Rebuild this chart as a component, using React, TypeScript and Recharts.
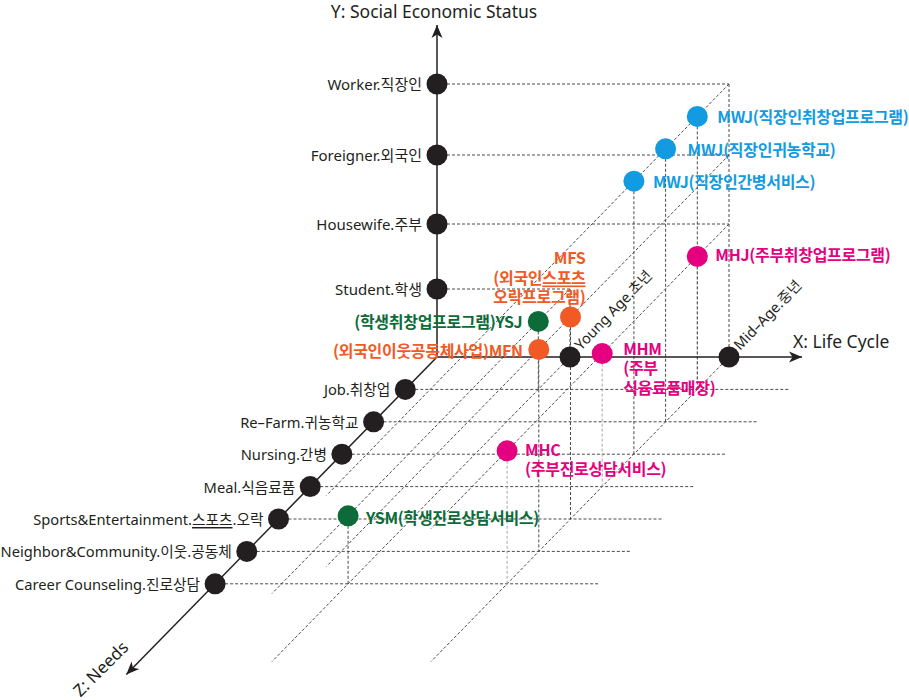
import { ReferenceDot, ReferenceLine, Scatter, ScatterChart, XAxis, YAxis } from "recharts";

// X: life cycle stages, position along the X axis
const lifeStages = ["Young Age.초년", "Mid–Age.중년"];
const lifeStageAt = [133, 292];

// Y: social economic status, height on the Y axis
const statuses = ["Student.학생", "Housewife.주부", "Foreigner.외국인", "Worker.직장인"];
const statusAt = [68, 133, 202, 273];
// stage each status row runs out to on the back plane
const statusReach = [0, 1, 1, 1];

// Z: needs, step 1..7 along the Z axis
const needs = [
  "Job.취창업",
  "Re–Farm.귀농학교",
  "Nursing.간병",
  "Meal.식음료품",
  "Sports&Entertainment.스포츠.오락",
  "Neighbor&Community.이웃.공동체",
  "Career Counseling.진로상담",
];

// services: index into lifeStages / statuses / needs
const serviceLabels = [
  ["(학생취창업프로그램)YSJ"],
  ["YSM(학생진로상담서비스)"],
  ["(외국인이웃공동체사업)MFN"],
  ["MFS", "(외국인스포츠", "오락프로그램)"],
  ["MHJ(주부취창업프로그램)"],
  ["MHM", "(주부", "식음료품매장)"],
  ["MHC", "(주부진로상담서비스)"],
  ["MWJ(직장인취창업프로그램)"],
  ["MWJ(직장인귀농학교)"],
  ["MWJ(직장인간병서비스)"],
];
const serviceLife = [0, 0, 1, 1, 1, 1, 1, 1, 1, 1];
const serviceStatus = [0, 0, 2, 2, 1, 1, 1, 3, 3, 3];
const serviceNeed = [0, 6, 5, 4, 0, 3, 6, 0, 1, 2];

// diagonal depth lines: [stage, status (-1 = floor), how deep they run]
const depthLines = [
  [1, 3, 12.7],
  [1, 2, 12.7],
  [1, 1, 9.4],
  [1, -1, 9.4],
  [0, 0, 9.4],
  [0, -1, 9.4],
];
const floorRunTo = 385;

const INK = "#231f20";
const GRID = "#4a4a4a";
const FONT = "'Noto Sans', 'Noto Sans CJK KR', sans-serif";
const KFONT = "'Noto Sans CJK KR', 'Noto Sans', sans-serif";
const statusColor = ["#0c6b38", "#e5007f", "#f15a24", "#129be0"];

// oblique projection step of one need along Z
const Z_DX = 31.7;
const Z_DY = 32.4;
const P = (lc: number, s: number, z: number) => ({ x: lc - z * Z_DX, y: s - z * Z_DY });

const labelLayout = [
  { anchor: "end", dx: -16, dy: 0, lh: 19 },
  { anchor: "start", dx: 18, dy: 1, lh: 19 },
  { anchor: "end", dx: -16, dy: 1, lh: 19 },
  { anchor: "end", dx: 15, dy: -60, lh: 19.5 },
  { anchor: "start", dx: 18, dy: -2, lh: 19 },
  { anchor: "start", dx: 21, dy: -6, lh: 19.5 },
  { anchor: "start", dx: 18, dy: -2, lh: 19 },
  { anchor: "start", dx: 20, dy: 0, lh: 19 },
  { anchor: "start", dx: 22, dy: 0, lh: 19 },
  { anchor: "start", dx: 19, dy: 0, lh: 19 },
];

const withUnderline = (text: string) => {
  const i = text.indexOf("스포츠");
  if (i < 0) return text;
  return (
    <>
      {text.slice(0, i)}
      <tspan textDecoration="underline">스포츠</tspan>
      {text.slice(i + 3)}
    </>
  );
};

const statusPoints = statuses.map((name, i) => ({ ...P(0, statusAt[i], 0), name, size: 15 }));
const needPoints = needs.map((name, k) => ({ ...P(0, 0, k + 1), name, size: 14.7 }));
const stagePoints = lifeStages.map((name, i) => ({ ...P(lifeStageAt[i], 0, 0), name }));
const servicePoints = serviceLabels.map((lines, i) => ({
  ...P(lifeStageAt[serviceLife[i]], statusAt[serviceStatus[i]], serviceNeed[i] + 1),
  lines,
  idx: i,
  color: statusColor[serviceStatus[i]],
}));

const backRows = statuses.map((_, i) => [P(0, statusAt[i], 0), P(lifeStageAt[statusReach[i]], statusAt[i], 0)]);
const backCols = [
  [P(lifeStageAt[1], 0, 0), P(lifeStageAt[1], statusAt[3], 0)],
  [P(lifeStageAt[0], 0, 0), P(lifeStageAt[0], statusAt[0], 0)],
];
const depthSegs = depthLines.map(([lc, s, z]) => {
  const h = s < 0 ? 0 : statusAt[s];
  return [P(lifeStageAt[lc], h, 0), P(lifeStageAt[lc], h, z)];
});
const floorRows = needs.map((_, k) => [P(0, 0, k + 1), P(floorRunTo, 0, k + 1)]);
const drops = servicePoints.map((_, i) => {
  const lc = lifeStageAt[serviceLife[i]];
  const z = serviceNeed[i] + 1;
  return { seg: [P(lc, statusAt[serviceStatus[i]], z), P(lc, 0, z)], light: serviceStatus[i] === 1 };
});

const yTip = P(0, 332, 0);
const xTip = P(365, 0, 0);
const zTip = P(0, 0, 9.8);
const origin = P(0, 0, 0);

const Arrow = ({ cx, cy, angle }: { cx: number; cy: number; angle: number }) => (
  <polygon points="0,0 -13,-5.5 -9.5,0 -13,5.5" transform={`translate(${cx},${cy}) rotate(${angle})`} fill={INK} />
);

const AxisDot = (props: any) => {
  const { cx, cy, payload } = props;
  return (
    <g>
      <circle cx={cx} cy={cy} r={10.5} fill={INK} />
      <text
        x={cx - 15}
        y={cy}
        textAnchor="end"
        dominantBaseline="central"
        fontSize={payload.size}
        fill={INK}
        fontFamily={FONT}
      >
        {withUnderline(payload.name)}
      </text>
    </g>
  );
};

const StageDot = (props: any) => {
  const { cx, cy, payload } = props;
  return (
    <g>
      <circle cx={cx} cy={cy} r={10.5} fill={INK} />
      <text
        transform={`translate(${cx + 11},${cy - 6}) rotate(-46)`}
        fontSize={14.5}
        fill={INK}
        fontFamily={FONT}
      >
        {payload.name}
      </text>
    </g>
  );
};

const ServiceDot = (props: any) => {
  const { cx, cy, payload } = props;
  const lay = labelLayout[payload.idx];
  return (
    <g>
      <circle cx={cx} cy={cy} r={10.5} fill={payload.color} />
      <text
        x={cx + lay.dx}
        y={cy + lay.dy}
        textAnchor={lay.anchor}
        dominantBaseline="central"
        fontSize={16}
        fontWeight={700}
        fill={payload.color}
        fontFamily={KFONT}
        letterSpacing={-0.3}
      >
        {payload.lines.map((l: string, j: number) => (
          <tspan key={j} x={cx + lay.dx} dy={j === 0 ? 0 : lay.lh}>
            {withUnderline(l)}
          </tspan>
        ))}
      </text>
    </g>
  );
};

const dashed = (seg: { x: number; y: number }[], key: string, color = GRID) => (
  <ReferenceLine
    key={key}
    segment={seg}
    stroke={color}
    strokeWidth={1}
    strokeDasharray="3 2"
    ifOverflow="visible"
  />
);

export default function App() {
  return (
    <div style={{ position: "absolute", left: 0, top: 0, width: 909, height: 700, background: "#fff" }}>
      <ScatterChart width={909} height={700} margin={{ top: 0, right: 0, bottom: 0, left: 0 }}>
        <XAxis type="number" dataKey="x" domain={[-437, 472]} hide allowDataOverflow />
        <YAxis type="number" dataKey="y" domain={[-343, 357]} hide allowDataOverflow />

        {backRows.map((s, i) => dashed(s, `br${i}`))}
        {backCols.map((s, i) => dashed(s, `bc${i}`))}
        {depthSegs.map((s, i) => dashed(s, `d${i}`))}
        {floorRows.map((s, i) => dashed(s, `f${i}`))}
        {drops.map((d, i) => dashed(d.seg, `dr${i}`, d.light ? "#a8a8a8" : GRID))}

        <ReferenceLine segment={[origin, yTip]} stroke={INK} strokeWidth={1.5} ifOverflow="visible" />
        <ReferenceLine segment={[origin, xTip]} stroke={INK} strokeWidth={1.5} ifOverflow="visible" />
        <ReferenceLine segment={[origin, zTip]} stroke={INK} strokeWidth={1.5} ifOverflow="visible" />

        <ReferenceDot
          x={yTip.x}
          y={yTip.y}
          r={0}
          ifOverflow="visible"
          shape={(p: any) => (
            <g>
              <Arrow cx={p.cx} cy={p.cy} angle={-90} />
              <text x={p.cx - 3} y={p.cy - 7} textAnchor="middle" fontSize={17.5} fill={INK} fontFamily={FONT}>
                Y: Social Economic Status
              </text>
            </g>
          )}
        />
        <ReferenceDot
          x={xTip.x}
          y={xTip.y}
          r={0}
          ifOverflow="visible"
          shape={(p: any) => (
            <g>
              <Arrow cx={p.cx} cy={p.cy} angle={0} />
              <text x={p.cx - 9} y={p.cy - 9} fontSize={17.5} fill={INK} fontFamily={FONT}>
                X: Life Cycle
              </text>
            </g>
          )}
        />
        <ReferenceDot
          x={zTip.x}
          y={zTip.y}
          r={0}
          ifOverflow="visible"
          shape={(p: any) => (
            <g>
              <Arrow cx={p.cx} cy={p.cy} angle={(Math.atan2(Z_DY, -Z_DX) * 180) / Math.PI} />
              <text
                transform={`translate(${p.cx - 26},${p.cy - 6}) rotate(-45)`}
                textAnchor="middle"
                dominantBaseline="central"
                fontSize={17}
                fill={INK}
                fontFamily={FONT}
              >
                Z: Needs
              </text>
            </g>
          )}
        />

        <Scatter data={statusPoints} shape={AxisDot} isAnimationActive={false} />
        <Scatter data={needPoints} shape={AxisDot} isAnimationActive={false} />
        <Scatter data={stagePoints} shape={StageDot} isAnimationActive={false} />
        <Scatter data={servicePoints} shape={ServiceDot} isAnimationActive={false} />
      </ScatterChart>
    </div>
  );
}
